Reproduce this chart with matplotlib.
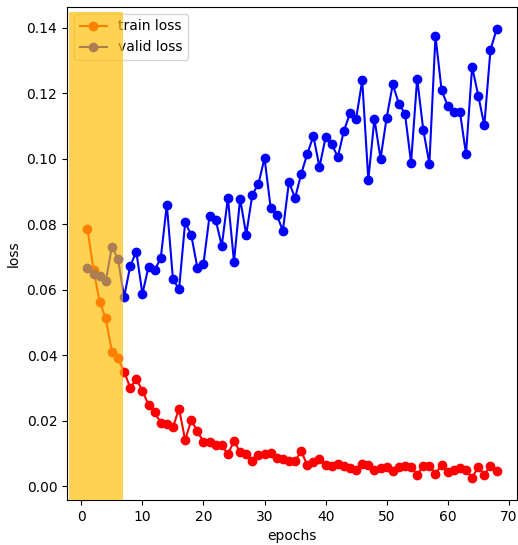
import matplotlib
matplotlib.use("Agg")
import matplotlib.pyplot as plt
import numpy as np

# valores (epocas 1..68)
epochs = np.arange(1, 69)

train_loss = [
    0.0786, 0.0660, 0.0563, 0.0512, 0.0411, 0.0390, 0.0350, 0.0301, 0.0326, 0.0292,
    0.0248, 0.0225, 0.0194, 0.0191, 0.0180, 0.0236, 0.0141, 0.0201, 0.0168, 0.0135,
    0.0135, 0.0125, 0.0125, 0.0097, 0.0138, 0.0104, 0.0097, 0.0078, 0.0095, 0.0097,
    0.0101, 0.0085, 0.0084, 0.0077, 0.0077, 0.0106, 0.0065, 0.0074, 0.0084, 0.0065,
    0.0062, 0.0067, 0.0062, 0.0054, 0.0050, 0.0067, 0.0064, 0.0048, 0.0054, 0.0059,
    0.0047, 0.0057, 0.0062, 0.0059, 0.0034, 0.0062, 0.0062, 0.0037, 0.0065, 0.0044,
    0.0049, 0.0054, 0.0049, 0.0026, 0.0058, 0.0034, 0.0062, 0.0047,
]

valid_loss = [
    0.0666, 0.0649, 0.0641, 0.0626, 0.0731, 0.0695, 0.0577, 0.0672, 0.0716, 0.0587,
    0.0670, 0.0660, 0.0696, 0.0859, 0.0633, 0.0601, 0.0806, 0.0767, 0.0667, 0.0679,
    0.0826, 0.0813, 0.0734, 0.0880, 0.0685, 0.0878, 0.0768, 0.0890, 0.0923, 0.1002,
    0.0851, 0.0829, 0.0780, 0.0929, 0.0880, 0.0953, 0.1015, 0.1069, 0.0975, 0.1065,
    0.1045, 0.1005, 0.1085, 0.1139, 0.1122, 0.1239, 0.0936, 0.1122, 0.1000, 0.1125,
    0.1227, 0.1168, 0.1138, 0.0988, 0.1245, 0.1088, 0.0985, 0.1375, 0.1209, 0.1162,
    0.1143, 0.1144, 0.1014, 0.1281, 0.1193, 0.1102, 0.1332, 0.1395,
]

# zona resaltada (epocas iniciales)
zona_inicio = -2.0
zona_fin = 6.8

fig = plt.figure(figsize=(5.18, 5.45), dpi=100)
ax = fig.add_axes([67 / 518, 45 / 545, 450 / 518, 493 / 545])

ax.plot(epochs, train_loss, '-o', color='red', label='train loss')
ax.plot(epochs, valid_loss, '-o', color='blue', label='valid loss')

ax.set_xlabel('epochs')
ax.set_ylabel('loss')
ax.legend(loc='upper left')

# guardar limites automaticos antes de la zona
xl = ax.get_xlim()
yl = ax.get_ylim()
ax.axvspan(zona_inicio, zona_fin, ymin=0, ymax=0.99,
           color=(1.0, 0.74, 0.0), alpha=0.68, lw=0, zorder=10)
ax.set_xlim(xl)
ax.set_ylim(yl)

plt.savefig('out.png', dpi=100)
plt.close()
